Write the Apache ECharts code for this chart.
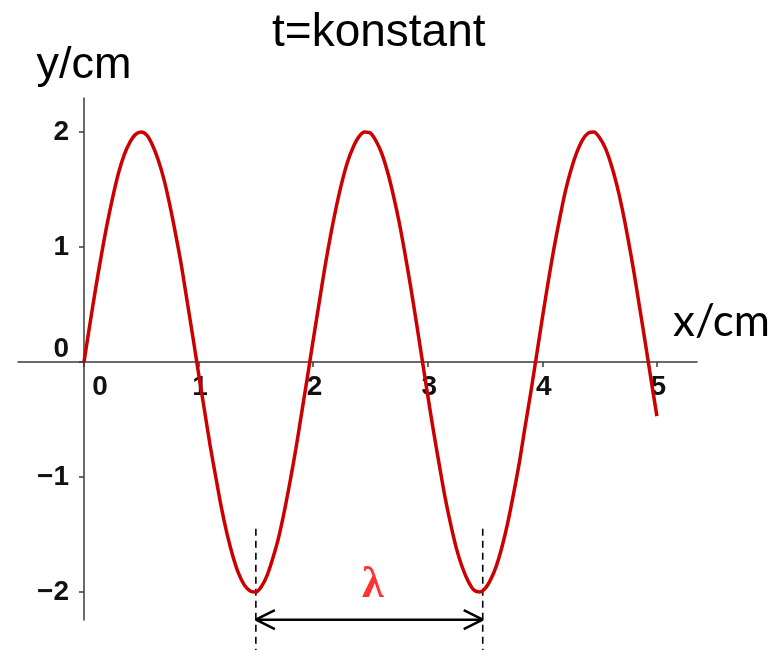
<!DOCTYPE html>
<html>
<head>
<meta charset="utf-8">
<style>
html, body { margin: 0; padding: 0; background: #fff; }
#main { width: 784px; height: 650px; }
</style>
<script src="https://cdn.jsdelivr.net/npm/echarts@6/dist/echarts.min.js"></script>
</head>
<body>
<div id="main"></div>
<script>
// wave at fixed time (x in cm, y in cm)
var waveX = [0, 0.05, 0.1, 0.15, 0.2, 0.25, 0.3, 0.35, 0.4, 0.45,
	0.5, 0.55, 0.6, 0.65, 0.7, 0.75, 0.8, 0.85, 0.9, 0.95,
	1.0, 1.05, 1.1, 1.15, 1.2, 1.25, 1.3, 1.35, 1.4, 1.45,
	1.5, 1.55, 1.6, 1.65, 1.7, 1.75, 1.8, 1.85, 1.9, 1.95,
	2.0, 2.05, 2.1, 2.15, 2.2, 2.25, 2.3, 2.35, 2.4, 2.45,
	2.5, 2.55, 2.6, 2.65, 2.7, 2.75, 2.8, 2.85, 2.9, 2.95,
	3.0, 3.05, 3.1, 3.15, 3.2, 3.25, 3.3, 3.35, 3.4, 3.45,
	3.5, 3.55, 3.6, 3.65, 3.7, 3.75, 3.8, 3.85, 3.9, 3.95,
	4.0, 4.05, 4.1, 4.15, 4.2, 4.25, 4.3, 4.35, 4.4, 4.45,
	4.5, 4.55, 4.6, 4.65, 4.7, 4.75, 4.8, 4.85, 4.9, 4.95, 5.0];
var waveY = [0, 0.32, 0.63, 0.92, 1.19, 1.43, 1.64, 1.8, 1.91, 1.98,
	2.0, 1.97, 1.88, 1.75, 1.58, 1.36, 1.11, 0.84, 0.53, 0.22,
	-0.1, -0.41, -0.72, -1.0, -1.27, -1.5, -1.69, -1.84, -1.94, -1.99,
	-2.0, -1.95, -1.85, -1.7, -1.52, -1.29, -1.03, -0.75, -0.44, -0.13,
	0.19, 0.5, 0.81, 1.09, 1.34, 1.56, 1.74, 1.87, 1.96, 2.0,
	1.99, 1.92, 1.81, 1.65, 1.45, 1.22, 0.95, 0.66, 0.35, 0.03,
	-0.29, -0.6, -0.89, -1.17, -1.41, -1.62, -1.78, -1.9, -1.98, -2.0,
	-1.97, -1.89, -1.77, -1.6, -1.39, -1.14, -0.87, -0.56, -0.26, 0.06,
	0.38, 0.69, 0.98, 1.24, 1.48, 1.67, 1.82, 1.93, 1.99, 2.0,
	1.95, 1.86, 1.72, 1.54, 1.32, 1.06, 0.78, 0.47, 0.16, -0.16, -0.47];
var xTicks = [0, 1, 2, 3, 4, 5];
var yTicks = [-2, -1, 0, 1, 2];
// the two troughs that mark one wavelength
var troughX = [1.5, 3.48];
var lambdaText = 'λ';

// annotation geometry (data units)
var dashTop = -1.45, dashBottom = -2.58;
var arrowY = -2.24, headW = 0.166, headH = 0.083;
var lambdaPos = [2.52, -1.94];

var xMin = -0.576, xMax = 5.35, yMin = -2.243, yMax = 2.296;
var gridBox = { left: 18, right: 87, top: 98, bottom: 30 };
var axisColor = '#3a3a3a';
var tickFont = { color: '#111', fontFamily: '"Liberation Sans Narrow", "Liberation Sans", sans-serif', fontWeight: 'bold', fontSize: 28 };

function init() {
	var myChart = echarts.init(document.getElementById('main'));
	var gridW = 784 - gridBox.left - gridBox.right,
		gridH = 650 - gridBox.top - gridBox.bottom;

	var wave = waveX.map(function(x, i) {
		return [x, waveY[i]];
	});

	var series = [{
		type: 'line',
		data: wave,
		smooth: 0.3,
		symbol: 'none',
		z: 5,
		lineStyle: { color: '#cc0000', width: 3.5 }
	}];

	//虚线
	troughX.forEach(function(x) {
		series.push({
			type: 'line',
			clip: false,
			symbol: 'none',
			silent: true,
			data: [[x, dashTop], [x, dashBottom]],
			lineStyle: { color: '#000', width: 1.6, type: [7, 5] }
		});
	});

	//双箭头
	series.push({
		type: 'line',
		clip: false,
		symbol: 'none',
		silent: true,
		data: [[troughX[0], arrowY], [troughX[1], arrowY]],
		lineStyle: { color: '#000', width: 2.5 }
	});
	series.push({
		type: 'line',
		clip: false,
		symbol: 'none',
		silent: true,
		data: [[troughX[0] + headW, arrowY + headH], [troughX[0], arrowY], [troughX[0] + headW, arrowY - headH]],
		lineStyle: { color: '#000', width: 2.5 }
	});
	series.push({
		type: 'line',
		clip: false,
		symbol: 'none',
		silent: true,
		data: [[troughX[1] - headW, arrowY + headH], [troughX[1], arrowY], [troughX[1] - headW, arrowY - headH]],
		lineStyle: { color: '#000', width: 2.5 }
	});

	//λ
	series.push({
		type: 'scatter',
		symbolSize: 1,
		itemStyle: { color: 'rgba(0,0,0,0)' },
		silent: true,
		z: 6,
		data: [lambdaPos],
		label: {
			show: true,
			position: 'inside',
			formatter: lambdaText,
			color: '#ff0000',
			fontFamily: 'Liberation Serif',
			fontWeight: 'bold',
			fontSize: 44
		}
	});

	var option = {
		animation: false,
		backgroundColor: '#fff',
		title: {
			text: 't=konstant',
			left: 267,
			top: 5,
			textStyle: { fontFamily: 'Liberation Sans', fontWeight: 'normal', fontSize: 46, color: '#000' }
		},
		grid: { left: gridBox.left, right: gridBox.right, top: gridBox.top, bottom: gridBox.bottom, containLabel: false, outerBoundsMode: 'none' },
		xAxis: {
			type: 'value',
			min: xMin,
			max: xMax,
			position: 'bottom',
			// 移到 y=0
			offset: -(0 - yMin) / (yMax - yMin) * gridH,
			splitLine: { show: false },
			axisLine: { onZero: false, lineStyle: { color: axisColor, width: 1.5 } },
			axisTick: { customValues: xTicks, length: 5, lineStyle: { color: axisColor, width: 1.5 } },
			axisLabel: {
				customValues: xTicks,
				margin: 11,
				color: tickFont.color,
				fontFamily: tickFont.fontFamily,
				fontWeight: tickFont.fontWeight,
				fontSize: tickFont.fontSize,
				formatter: function(v) {
					return v === 0 ? '{z|0}' : '{n|' + v + '}';
				},
				rich: {
					z: Object.assign({ padding: [0, 0, 0, 32] }, tickFont),
					n: Object.assign({ padding: [0, 0, 0, 3] }, tickFont)
				}
			}
		},
		yAxis: {
			type: 'value',
			min: yMin,
			max: yMax,
			position: 'left',
			// 移到 x=0
			offset: -(0 - xMin) / (xMax - xMin) * gridW,
			name: 'y/cm',
			nameLocation: 'end',
			nameGap: 10,
			nameTextStyle: { fontFamily: 'Liberation Sans', fontSize: 45, color: '#000', align: 'center' },
			splitLine: { show: false },
			axisLine: { onZero: false, lineStyle: { color: axisColor, width: 1.5 } },
			axisTick: { customValues: yTicks, length: 5, lineStyle: { color: axisColor, width: 1.5 } },
			axisLabel: {
				customValues: yTicks,
				margin: 15,
				color: tickFont.color,
				fontFamily: tickFont.fontFamily,
				fontWeight: tickFont.fontWeight,
				fontSize: tickFont.fontSize,
				formatter: function(v) {
					if (v === 0) return '{z|0}';
					return v < 0 ? '\u2212' + Math.abs(v) : String(v);
				},
				rich: {
					z: Object.assign({ padding: [0, 0, 26, 0] }, tickFont)
				}
			}
		},
		graphic: [{
			type: 'text',
			left: 673,
			top: 300,
			style: { text: 'x/cm', fontFamily: 'Lato', fontSize: 44, fill: '#000' }
		}],
		series: series
	};

	myChart.setOption(option);
}

init();
</script>
</body>
</html>
